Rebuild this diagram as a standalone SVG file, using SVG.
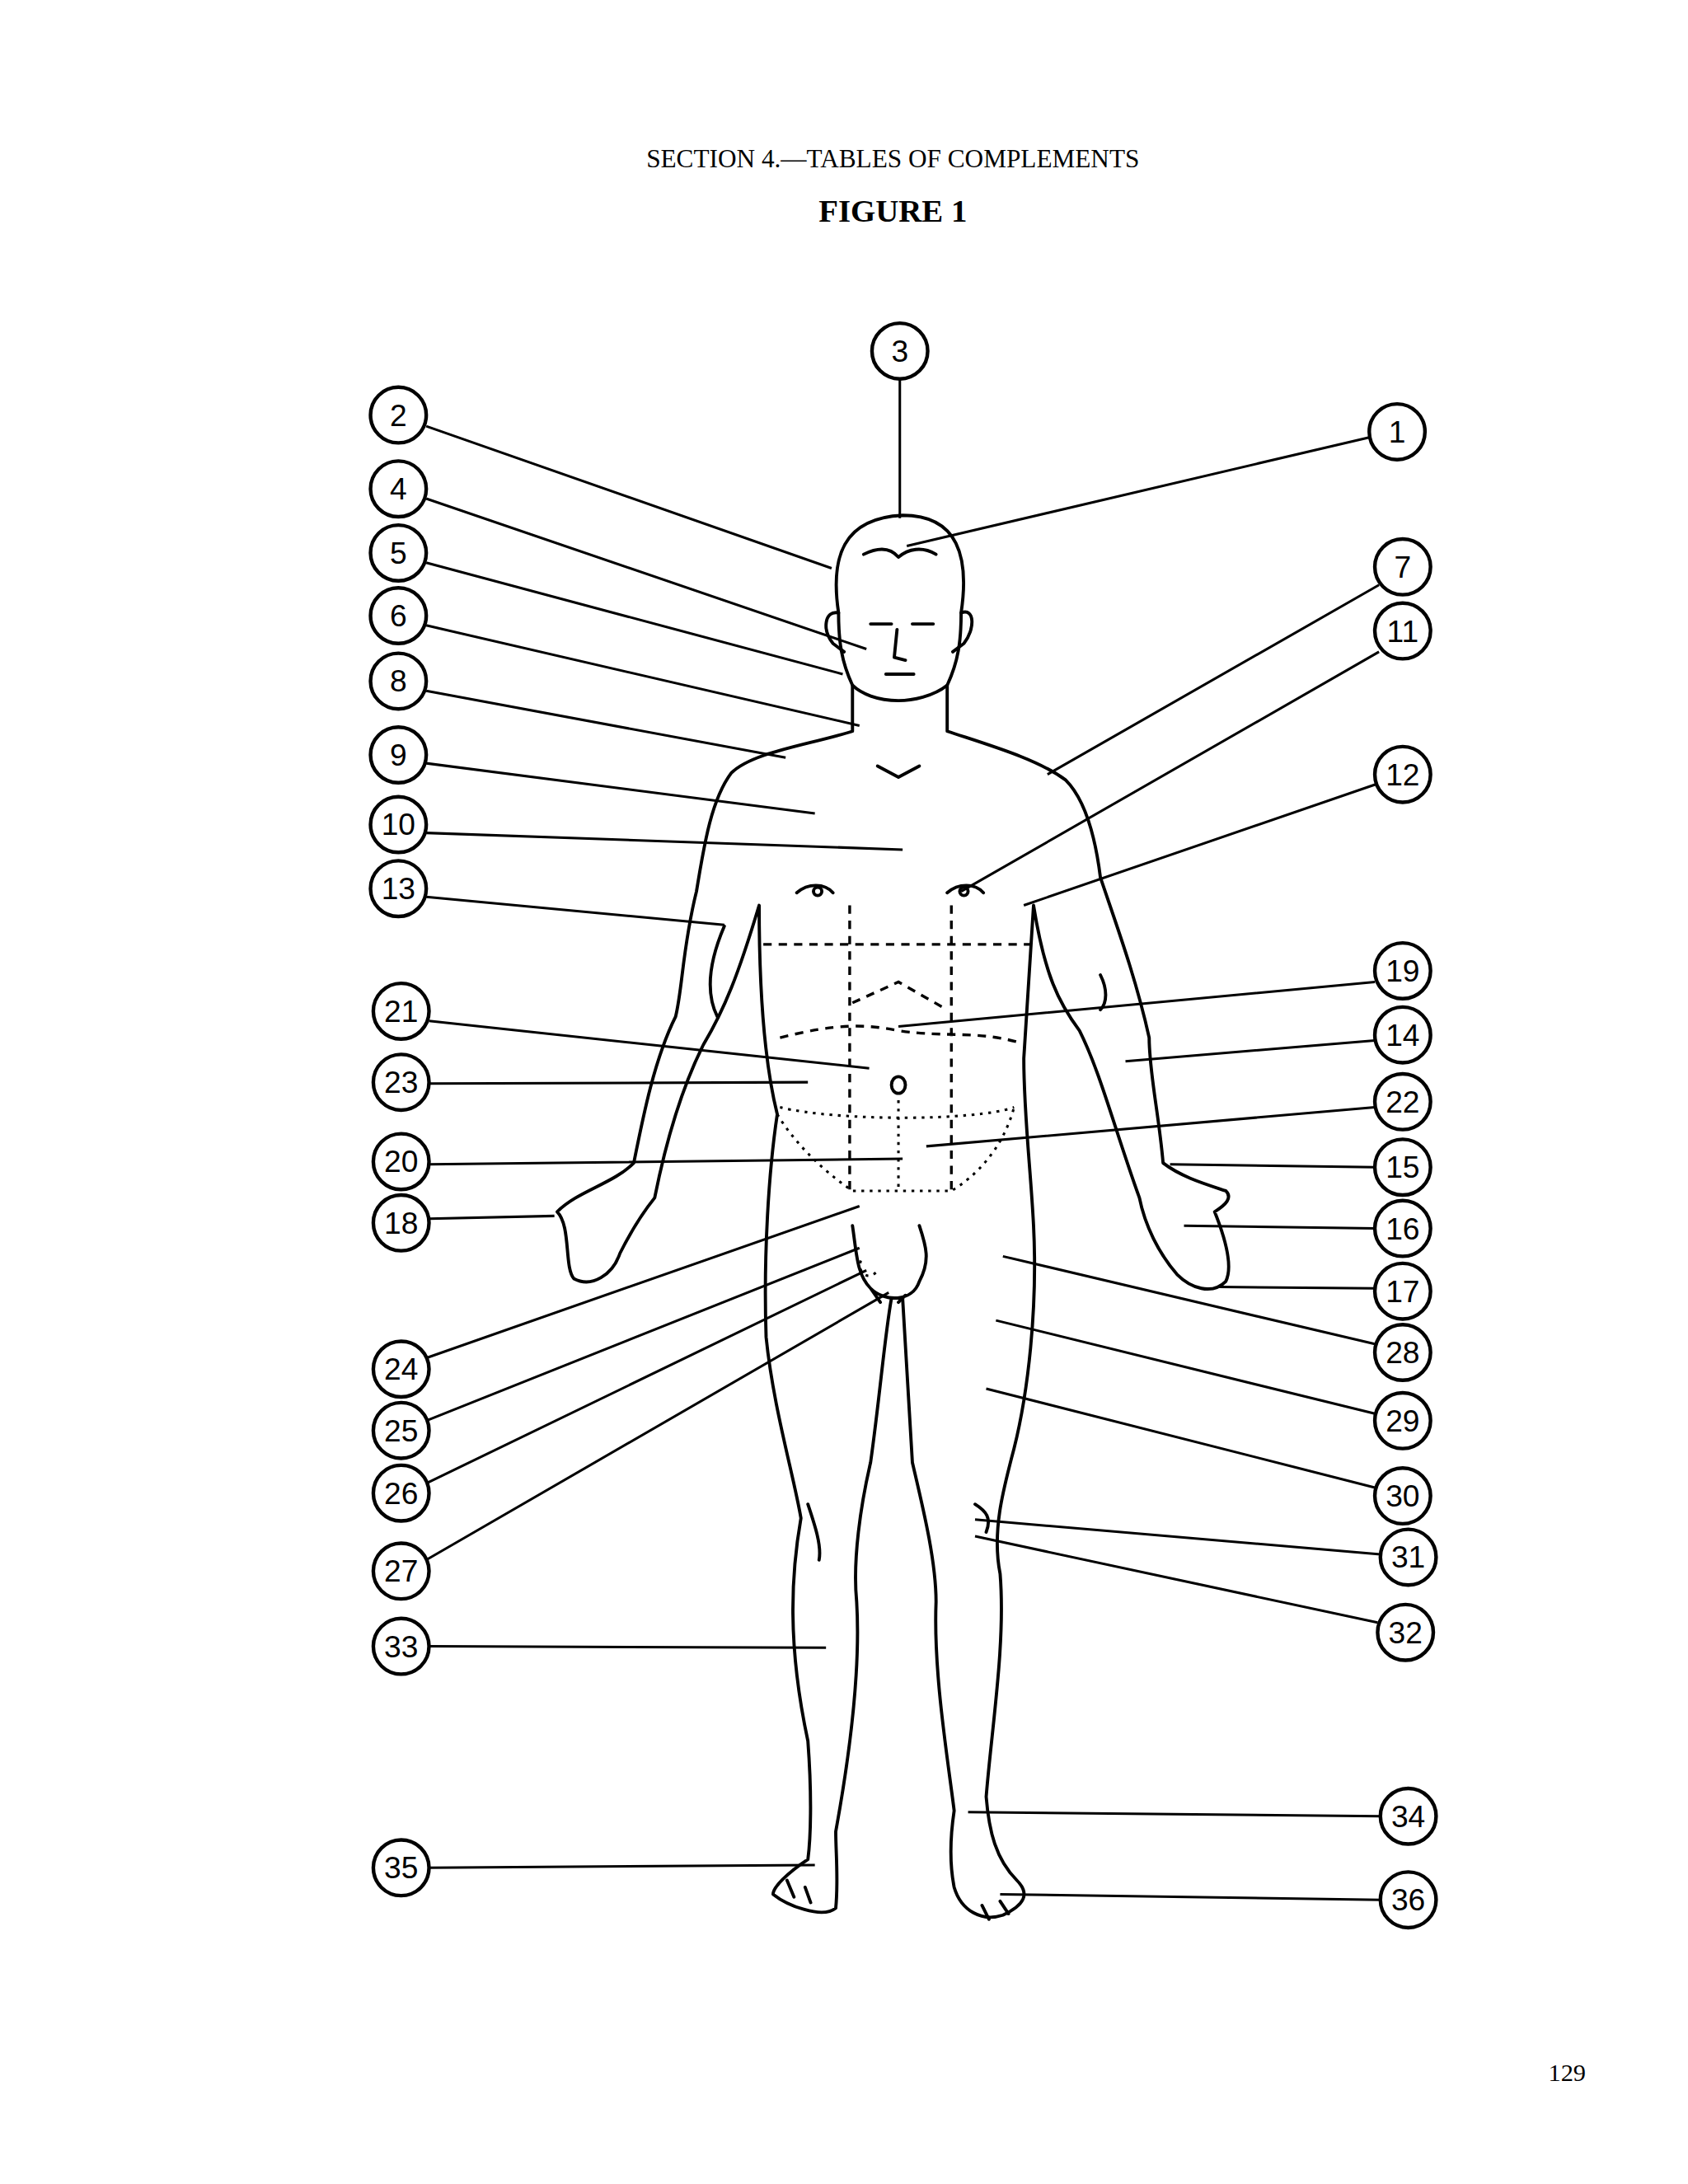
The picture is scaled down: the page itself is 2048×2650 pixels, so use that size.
<svg xmlns="http://www.w3.org/2000/svg" width="2048" height="2650" viewBox="0 0 2048 2650">
<style>
.c{fill:#fff;stroke:#000;stroke-width:2.6}
.t{font-family:"Liberation Sans",Arial,sans-serif;font-size:22px;text-anchor:middle;dominant-baseline:central}
.l{stroke:#000;stroke-width:1.8;fill:none}
.b{stroke:#000;stroke-width:2.3;fill:none;stroke-linejoin:round;stroke-linecap:round}
.d{stroke:#000;stroke-width:2;fill:none;stroke-dasharray:6 5}
.o{stroke:#000;stroke-width:1.8;fill:none;stroke-dasharray:2 4}
</style>
<rect width="2048" height="2650" fill="#fff"/>
<g transform="scale(1.69)">
<text x="641" y="114" font-family="Liberation Serif,serif" font-size="18.5" text-anchor="middle" dominant-baseline="central">SECTION 4.—TABLES OF COMPLEMENTS</text>
<text x="641" y="151" font-family="Liberation Serif,serif" font-size="23" font-weight="bold" text-anchor="middle" dominant-baseline="central">FIGURE 1</text>
<text x="1125" y="1488" font-family="Liberation Serif,serif" font-size="18" text-anchor="middle" dominant-baseline="central">129</text>
<g id="body">
<path class="b" d="M612,492 C604,475 602,460 602,440 C596,400 605,372 648,370 C688,370 696,400 690,440 C690,460 688,475 680,492 C670,500 655,503 645,503 C630,503 618,498 612,492 Z"/>
<path class="b" d="M602,440 C592,438 590,452 598,462 L606,468 M690,440 C700,436 700,452 692,462 L684,468"/>
<path class="b" d="M620,398 C632,392 640,394 645,400 C652,394 662,392 672,398"/>
<path class="b" d="M625,448 L640,448 M655,448 L670,448 M644,452 L642,472 L650,474 M636,484 L656,484"/>
<path class="b" d="M612,492 L612,525 C580,535 540,540 525,555 C510,575 505,610 500,640 C490,680 490,710 485,730 C470,760 462,800 455,835 C440,850 415,855 400,870 C410,880 405,910 412,918 C425,925 440,915 445,900 C455,880 462,870 470,860 C478,820 490,780 505,750 C520,725 530,700 545,650 C545,700 548,760 558,800 C552,840 548,900 550,960 C555,1010 570,1060 575,1090 C568,1130 565,1180 580,1250 C583,1290 582,1320 580,1335 C565,1345 555,1355 555,1360 C565,1368 590,1378 600,1370 C602,1350 600,1330 600,1315 C610,1260 618,1200 615,1150 C612,1120 618,1080 625,1050 C632,1000 635,960 640,932 L648,932 C650,960 652,1000 655,1050 C662,1080 672,1120 672,1150 C670,1200 680,1260 685,1300 C682,1320 682,1340 685,1355 C690,1372 705,1380 720,1375 C735,1368 740,1360 730,1350 C715,1335 710,1315 708,1290 C712,1240 722,1180 718,1130 C712,1100 720,1070 728,1040 C738,1000 745,940 742,880 C740,840 735,800 735,760 C738,710 740,680 742,650 C750,700 760,720 775,740 C790,770 800,810 818,860 C822,880 832,900 845,915 C855,925 870,930 880,920 C885,910 880,890 872,870 C880,865 885,860 880,855 C865,850 848,845 835,835 C832,800 825,770 825,745 C815,700 800,660 790,630 C785,590 775,570 765,560 C745,545 710,535 680,525 L680,492"/>
<path class="b" d="M520,665 C505,700 510,720 515,730 M790,700 C795,710 795,720 790,725"/>
<path class="b" d="M630,550 L645,558 L660,550"/>
<path class="b" d="M572,641 C580,634 592,634 598,641 M680,641 C688,634 700,634 706,641"/>
<circle cx="587" cy="640" r="3" class="b"/><circle cx="692" cy="640" r="3" class="b"/>
<ellipse cx="645" cy="779" rx="5" ry="6" class="b"/>
<path class="d" d="M548,678 L740,678 M610,650 L610,855 M683,650 L683,855 M560,745 C600,735 620,735 645,740 C680,745 700,740 730,748"/>
<path class="d" d="M612,720 L645,705 L680,725"/>
<path class="o" d="M560,795 C600,805 700,805 728,795 M558,800 C570,820 590,840 612,855 L683,855 C700,845 720,825 728,795 M645,790 L645,855"/>
<path class="b" d="M612,880 C615,900 615,915 625,925 C635,935 655,935 660,920 C668,905 665,895 660,880 M625,925 L632,935 M650,930 L645,935"/>
<path class="o" d="M618,905 C615,915 625,920 630,912"/>
<path class="b" d="M700,1080 C708,1085 712,1090 708,1100 M580,1080 C585,1095 590,1110 588,1120"/>
<path class="b" d="M565,1350 L570,1362 M578,1355 L582,1366 M705,1368 L710,1378 M718,1365 L724,1374"/>
</g>
<g id="connectors">
<path class="l" d="M983,314 L651,392 M306,306 L597,408 M646,272 L646,372 M306,358 L622,466 M306,404 L605,484 M306,449 L617,521 M990,420 L752,556 M306,496 L564,544 M306,548 L585,584 M306,598 L648,610 M990,468 L690,640 M988,563 L735,650 M306,644 L520,664 M987,705 L645,737 M308,733 L624,767 M987,747 L808,762 M308,778 L580,777 M987,795 L665,823 M308,836 L648,832 M987,838 L840,836 M308,875 L398,873 M987,882 L850,880 M987,925 L875,924 M306,975 L617,866 M987,965 L720,902 M306,1020 L617,896 M987,1015 L715,948 M306,1065 L622,912 M987,1068 L708,997 M306,1120 L638,928 M991,1116 L700,1091 M989,1165 L700,1103 M308,1182 L593,1183 M991,1304 L695,1301 M308,1341 L585,1339 M991,1364 L718,1360"/>
</g>
<g id="n1"><circle class="c" cx="1003" cy="310" r="20"/><text class="t" x="1003" y="310">1</text></g>
<g id="n2"><circle class="c" cx="286" cy="298" r="20"/><text class="t" x="286" y="298">2</text></g>
<g id="n3"><circle class="c" cx="646" cy="252" r="20"/><text class="t" x="646" y="252">3</text></g>
<g id="n4"><circle class="c" cx="286" cy="351" r="20"/><text class="t" x="286" y="351">4</text></g>
<g id="n5"><circle class="c" cx="286" cy="397" r="20"/><text class="t" x="286" y="397">5</text></g>
<g id="n6"><circle class="c" cx="286" cy="442" r="20"/><text class="t" x="286" y="442">6</text></g>
<g id="n7"><circle class="c" cx="1007" cy="407" r="20"/><text class="t" x="1007" y="407">7</text></g>
<g id="n8"><circle class="c" cx="286" cy="489" r="20"/><text class="t" x="286" y="489">8</text></g>
<g id="n9"><circle class="c" cx="286" cy="542" r="20"/><text class="t" x="286" y="542">9</text></g>
<g id="n10"><circle class="c" cx="286" cy="592" r="20"/><text class="t" x="286" y="592">10</text></g>
<g id="n11"><circle class="c" cx="1007" cy="453" r="20"/><text class="t" x="1007" y="453">11</text></g>
<g id="n12"><circle class="c" cx="1007" cy="556" r="20"/><text class="t" x="1007" y="556">12</text></g>
<g id="n13"><circle class="c" cx="286" cy="638" r="20"/><text class="t" x="286" y="638">13</text></g>
<g id="n19"><circle class="c" cx="1007" cy="697" r="20"/><text class="t" x="1007" y="697">19</text></g>
<g id="n21"><circle class="c" cx="288" cy="726" r="20"/><text class="t" x="288" y="726">21</text></g>
<g id="n14"><circle class="c" cx="1007" cy="743" r="20"/><text class="t" x="1007" y="743">14</text></g>
<g id="n23"><circle class="c" cx="288" cy="777" r="20"/><text class="t" x="288" y="777">23</text></g>
<g id="n22"><circle class="c" cx="1007" cy="791" r="20"/><text class="t" x="1007" y="791">22</text></g>
<g id="n20"><circle class="c" cx="288" cy="834" r="20"/><text class="t" x="288" y="834">20</text></g>
<g id="n15"><circle class="c" cx="1007" cy="838" r="20"/><text class="t" x="1007" y="838">15</text></g>
<g id="n18"><circle class="c" cx="288" cy="878" r="20"/><text class="t" x="288" y="878">18</text></g>
<g id="n16"><circle class="c" cx="1007" cy="882" r="20"/><text class="t" x="1007" y="882">16</text></g>
<g id="n17"><circle class="c" cx="1007" cy="927" r="20"/><text class="t" x="1007" y="927">17</text></g>
<g id="n24"><circle class="c" cx="288" cy="983" r="20"/><text class="t" x="288" y="983">24</text></g>
<g id="n28"><circle class="c" cx="1007" cy="971" r="20"/><text class="t" x="1007" y="971">28</text></g>
<g id="n25"><circle class="c" cx="288" cy="1027" r="20"/><text class="t" x="288" y="1027">25</text></g>
<g id="n29"><circle class="c" cx="1007" cy="1020" r="20"/><text class="t" x="1007" y="1020">29</text></g>
<g id="n26"><circle class="c" cx="288" cy="1072" r="20"/><text class="t" x="288" y="1072">26</text></g>
<g id="n30"><circle class="c" cx="1007" cy="1074" r="20"/><text class="t" x="1007" y="1074">30</text></g>
<g id="n27"><circle class="c" cx="288" cy="1128" r="20"/><text class="t" x="288" y="1128">27</text></g>
<g id="n31"><circle class="c" cx="1011" cy="1118" r="20"/><text class="t" x="1011" y="1118">31</text></g>
<g id="n32"><circle class="c" cx="1009" cy="1172" r="20"/><text class="t" x="1009" y="1172">32</text></g>
<g id="n33"><circle class="c" cx="288" cy="1182" r="20"/><text class="t" x="288" y="1182">33</text></g>
<g id="n34"><circle class="c" cx="1011" cy="1304" r="20"/><text class="t" x="1011" y="1304">34</text></g>
<g id="n35"><circle class="c" cx="288" cy="1341" r="20"/><text class="t" x="288" y="1341">35</text></g>
<g id="n36"><circle class="c" cx="1011" cy="1364" r="20"/><text class="t" x="1011" y="1364">36</text></g>
</g>
</svg>
